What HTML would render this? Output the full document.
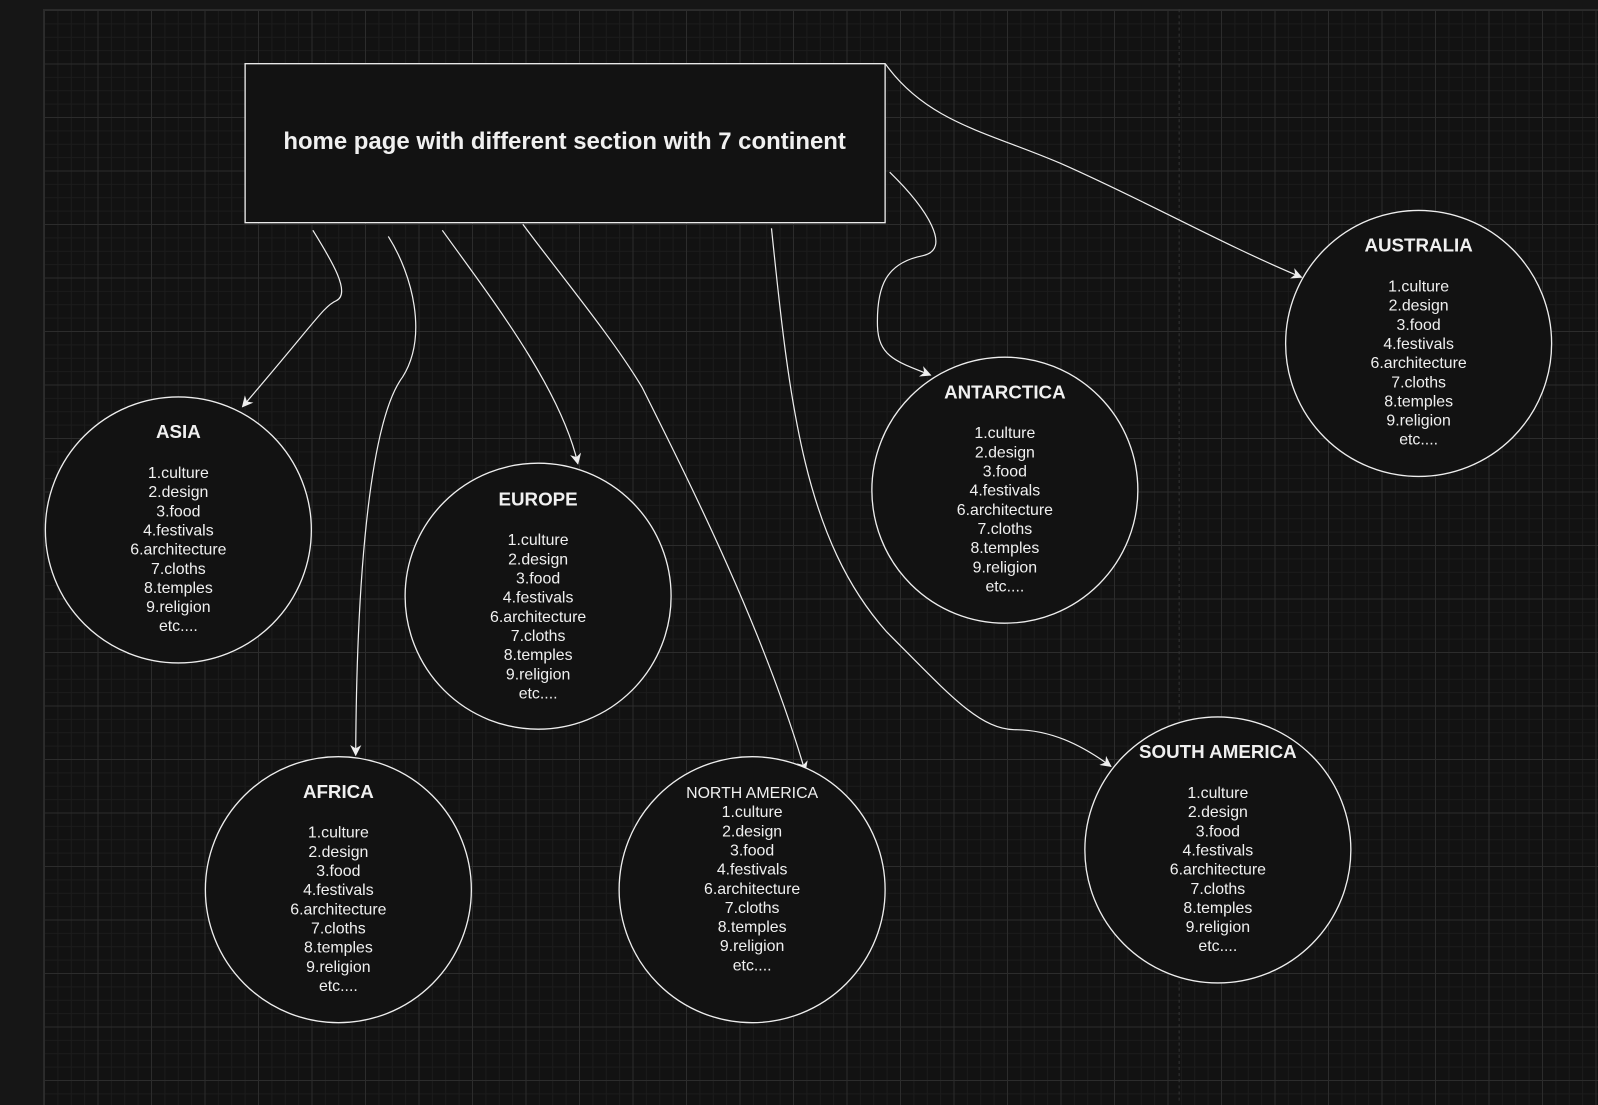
<!DOCTYPE html>
<html><head><meta charset="utf-8"><style>
html,body{margin:0;padding:0;width:1598px;height:1104px;overflow:hidden;background:#161616}
#grid{position:absolute;left:43px;top:9px;width:1555px;height:1095px;background-color:#121212;
background-image:
linear-gradient(#2c2c2c 1px,transparent 1px),
linear-gradient(90deg,#2c2c2c 1px,transparent 1px),
linear-gradient(#1c1c1c 1px,transparent 1px),
linear-gradient(90deg,#1c1c1c 1px,transparent 1px);
background-size:53.5px 53.5px,53.5px 53.5px,13.375px 13.375px,13.375px 13.375px;
border-left:1px solid #2a2a2a;border-top:1px solid #2a2a2a}
svg{position:absolute;left:0;top:0}
text{font-family:"Liberation Sans",sans-serif;fill:#f0f0f0;text-anchor:middle}
.t{font-weight:bold;font-size:18.4px}
.l{font-size:15.6px}
</style></head><body>
<div id="grid"></div>
<svg width="1598" height="1104" viewBox="0 0 1568 1083.3">
<defs><marker id="a" viewBox="0 0 10 10" refX="9" refY="5" markerWidth="11" markerHeight="11" orient="auto" markerUnits="userSpaceOnUse">
<path d="M0,0 L10,5 L0,10 L3,5 z" fill="#eee"/></marker></defs>
<line x1="1157" y1="9" x2="1157" y2="1083" stroke="#333" stroke-dasharray="3,3"/>
<rect x="240.5" y="62.5" width="628" height="156" fill="#121212" stroke="#eee" stroke-width="1.3"/>
<text x="554" y="146" style="font-weight:bold;font-size:23.5px">home page with different section with 7 continent</text>
<g fill="none" stroke="#eee" stroke-width="1.2">
<path d="M307,226 C325,255 345,288 330,295 C318,300 310,315 238,399" marker-end="url(#a)"/>
<path d="M381,232 C405,270 420,330 395,370 C365,410 350,550 349,741" marker-end="url(#a)"/>
<path d="M434,226 C480,290 550,380 567,455" marker-end="url(#a)"/>
<path d="M513,220 C550,270 600,330 630,380 C680,480 750,620 790,757" marker-end="url(#a)"/>
<path d="M757,224 C775,400 790,530 870,620 C930,680 960,715 995,716 C1030,716 1060,730 1090,752" marker-end="url(#a)"/>
<path d="M873,169 C910,205 935,245 905,251 C870,258 860,280 861,320 C862,350 880,355 913,368" marker-end="url(#a)"/>
<path d="M869,63 C910,120 970,130 1040,160 C1120,195 1200,240 1277,272" marker-end="url(#a)"/>
</g>
<g fill="#121212" stroke="#eee" stroke-width="1.3">
<circle cx="175" cy="520" r="130.5"/>
<circle cx="528" cy="585" r="130.5"/>
<circle cx="332" cy="873" r="130.5"/>
<circle cx="738" cy="873" r="130.5"/>
<circle cx="986" cy="481" r="130.5"/>
<circle cx="1195" cy="834" r="130.5"/>
<circle cx="1392" cy="337" r="130.5"/>
</g>
<g id="items">
<text class="t" x="175" y="430">ASIA</text>
<text class="l" x="175" y="469">1.culture<tspan x="175" dy="18.8">2.design</tspan><tspan x="175" dy="18.8">3.food</tspan><tspan x="175" dy="18.8">4.festivals</tspan><tspan x="175" dy="18.8">6.architecture</tspan><tspan x="175" dy="18.8">7.cloths</tspan><tspan x="175" dy="18.8">8.temples</tspan><tspan x="175" dy="18.8">9.religion</tspan><tspan x="175" dy="18.8">etc....</tspan></text>
<text class="t" x="528" y="496">EUROPE</text>
<text class="l" x="528" y="535">1.culture<tspan x="528" dy="18.8">2.design</tspan><tspan x="528" dy="18.8">3.food</tspan><tspan x="528" dy="18.8">4.festivals</tspan><tspan x="528" dy="18.8">6.architecture</tspan><tspan x="528" dy="18.8">7.cloths</tspan><tspan x="528" dy="18.8">8.temples</tspan><tspan x="528" dy="18.8">9.religion</tspan><tspan x="528" dy="18.8">etc....</tspan></text>
<text class="t" x="332" y="783">AFRICA</text>
<text class="l" x="332" y="822">1.culture<tspan x="332" dy="18.8">2.design</tspan><tspan x="332" dy="18.8">3.food</tspan><tspan x="332" dy="18.8">4.festivals</tspan><tspan x="332" dy="18.8">6.architecture</tspan><tspan x="332" dy="18.8">7.cloths</tspan><tspan x="332" dy="18.8">8.temples</tspan><tspan x="332" dy="18.8">9.religion</tspan><tspan x="332" dy="18.8">etc....</tspan></text>
<text class="l" x="738" y="783">NORTH AMERICA<tspan x="738" dy="18.8">1.culture</tspan><tspan x="738" dy="18.8">2.design</tspan><tspan x="738" dy="18.8">3.food</tspan><tspan x="738" dy="18.8">4.festivals</tspan><tspan x="738" dy="18.8">6.architecture</tspan><tspan x="738" dy="18.8">7.cloths</tspan><tspan x="738" dy="18.8">8.temples</tspan><tspan x="738" dy="18.8">9.religion</tspan><tspan x="738" dy="18.8">etc....</tspan></text>
<text class="t" x="986" y="391">ANTARCTICA</text>
<text class="l" x="986" y="430">1.culture<tspan x="986" dy="18.8">2.design</tspan><tspan x="986" dy="18.8">3.food</tspan><tspan x="986" dy="18.8">4.festivals</tspan><tspan x="986" dy="18.8">6.architecture</tspan><tspan x="986" dy="18.8">7.cloths</tspan><tspan x="986" dy="18.8">8.temples</tspan><tspan x="986" dy="18.8">9.religion</tspan><tspan x="986" dy="18.8">etc....</tspan></text>
<text class="t" x="1195" y="744">SOUTH AMERICA</text>
<text class="l" x="1195" y="783">1.culture<tspan x="1195" dy="18.8">2.design</tspan><tspan x="1195" dy="18.8">3.food</tspan><tspan x="1195" dy="18.8">4.festivals</tspan><tspan x="1195" dy="18.8">6.architecture</tspan><tspan x="1195" dy="18.8">7.cloths</tspan><tspan x="1195" dy="18.8">8.temples</tspan><tspan x="1195" dy="18.8">9.religion</tspan><tspan x="1195" dy="18.8">etc....</tspan></text>
<text class="t" x="1392" y="247">AUSTRALIA</text>
<text class="l" x="1392" y="286">1.culture<tspan x="1392" dy="18.8">2.design</tspan><tspan x="1392" dy="18.8">3.food</tspan><tspan x="1392" dy="18.8">4.festivals</tspan><tspan x="1392" dy="18.8">6.architecture</tspan><tspan x="1392" dy="18.8">7.cloths</tspan><tspan x="1392" dy="18.8">8.temples</tspan><tspan x="1392" dy="18.8">9.religion</tspan><tspan x="1392" dy="18.8">etc....</tspan></text>
</g>
</svg>
</body></html>
